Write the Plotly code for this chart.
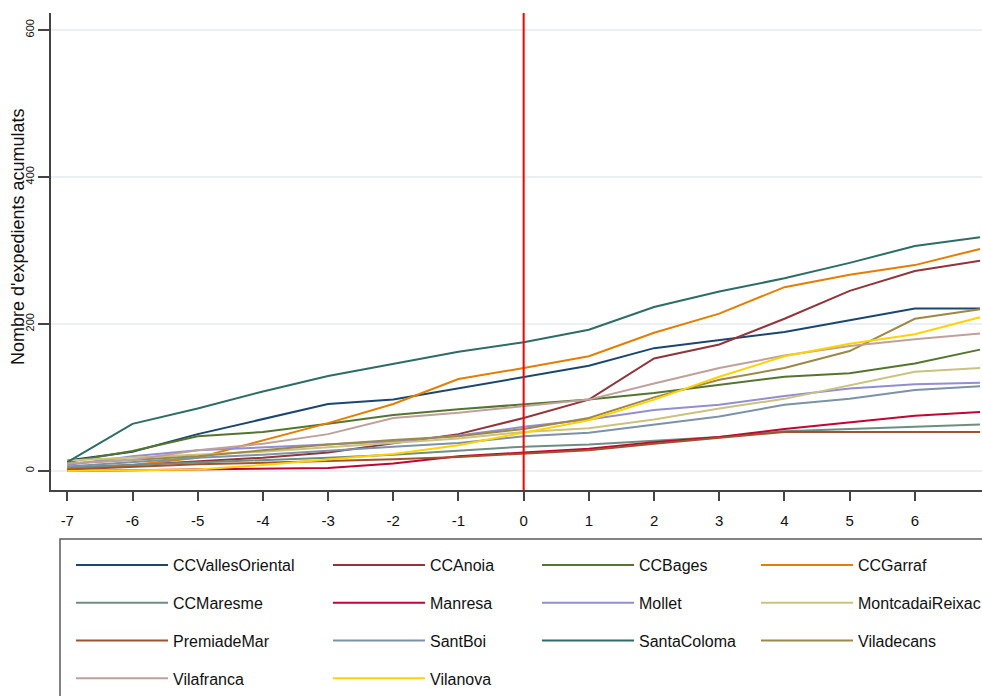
import plotly.graph_objects as go

# Event time (months relative to the change)
periods = list(range(-7, 8))

# Cumulative number of case files per office
CCVallesOriental = [14, 26, 50, 70, 91, 97, 112, 127, 143, 167, 178, 189, 205, 221, 221]
CCAnoia = [3, 8, 12, 18, 25, 38, 50, 72, 97, 153, 172, 207, 245, 272, 286]
CCBages = [12, 27, 47, 53, 64, 76, 84, 90, 97, 106, 117, 128, 133, 146, 165]
CCGarraf = [3, 8, 18, 42, 65, 91, 125, 140, 156, 188, 214, 250, 267, 280, 302]
CCMaresme = [5, 8, 12, 15, 18, 22, 27, 33, 36, 41, 46, 54, 57, 60, 63]
Manresa = [0, 1, 2, 3, 4, 10, 20, 25, 30, 39, 46, 57, 66, 75, 80]
Mollet = [8, 20, 28, 32, 35, 40, 48, 60, 70, 83, 90, 102, 112, 118, 120]
MontcadaiReixac = [14, 18, 22, 26, 32, 38, 44, 53, 58, 70, 85, 98, 117, 135, 140]
PremiadeMar = [2, 6, 9, 11, 13, 16, 19, 23, 28, 37, 45, 53, 53, 53, 53]
SantBoi = [6, 12, 18, 22, 28, 33, 38, 47, 52, 63, 74, 90, 98, 110, 115]
SantaColoma = [12, 64, 85, 108, 129, 146, 162, 175, 192, 223, 244, 262, 283, 306, 318]
Viladecans = [10, 15, 20, 28, 36, 42, 47, 57, 72, 100, 124, 140, 163, 207, 220]
Vilafranca = [10, 15, 28, 37, 50, 72, 79, 88, 97, 119, 140, 157, 170, 179, 187]
Vilanova = [0, 1, 2, 8, 15, 23, 35, 52, 69, 97, 128, 156, 173, 186, 209]

series = [
    ("CCVallesOriental", CCVallesOriental, "#1a476f", "legend"),
    ("CCAnoia", CCAnoia, "#90353b", "legend2"),
    ("CCBages", CCBages, "#55752f", "legend3"),
    ("CCGarraf", CCGarraf, "#e37e00", "legend4"),
    ("CCMaresme", CCMaresme, "#6e8e84", "legend"),
    ("Manresa", Manresa, "#c10534", "legend2"),
    ("Mollet", Mollet, "#938dd2", "legend3"),
    ("MontcadaiReixac", MontcadaiReixac, "#cac27e", "legend4"),
    ("PremiadeMar", PremiadeMar, "#a0522d", "legend"),
    ("SantBoi", SantBoi, "#7b92a8", "legend2"),
    ("SantaColoma", SantaColoma, "#2d6d66", "legend3"),
    ("Viladecans", Viladecans, "#9c8847", "legend4"),
    ("Vilafranca", Vilafranca, "#bfa19c", "legend"),
    ("Vilanova", Vilanova, "#ffd200", "legend2"),
]

x_ticks = list(range(-7, 7))
y_ticks = [0, 200, 400, 600]
y_title = "Nombre d'expedients acumulats"

FONT = "Liberation Sans"

fig = go.Figure()
for name, vals, color, leg in series:
    fig.add_trace(go.Scatter(
        x=periods, y=vals, mode="lines", name=name,
        line=dict(color=color, width=2), legend=leg, legendgroup=name,
    ))

# Vertical reference line at period 0
fig.add_vline(x=0, line_color="#ff0000", line_width=2, layer="above")

W, H = 982, 696
ML, MT, MB = 51, 13, 206
plot_w = W - ML
plot_h = H - MT - MB


def px_x(px):
    return (px - ML) / plot_w


def px_y(py):
    return (H - MB - py) / plot_h


# Legend frame
fig.add_shape(type="rect", xref="paper", yref="paper",
              x0=px_x(60), x1=px_x(1000), y0=px_y(740), y1=px_y(539),
              line=dict(color="#5a5a5a", width=1.5), fillcolor="rgba(0,0,0,0)")

# Y-axis title
fig.add_annotation(text=y_title, xref="paper", yref="paper",
                   x=px_x(18), y=px_y(237), xanchor="center", yanchor="middle",
                   textangle=-90, showarrow=False,
                   font=dict(family=FONT, size=18, color="#111111"))

leg_common = dict(
    orientation="v", xanchor="left", yanchor="top",
    font=dict(family=FONT, size=16, color="#111111"),
    bgcolor="rgba(0,0,0,0)", borderwidth=0,
    itemwidth=92, tracegroupgap=14,
)
col_x = [71, 328, 537, 756]
legs = ["legend", "legend2", "legend3", "legend4"]
layout_legends = {}
for lg, cx in zip(legs, col_x):
    layout_legends[lg] = dict(leg_common, x=px_x(cx), y=px_y(548))

fig.update_layout(
    width=W, height=H,
    margin=dict(l=ML, r=0, t=MT, b=MB, autoexpand=False),
    paper_bgcolor="white", plot_bgcolor="white",
    showlegend=True,
    **layout_legends,
    xaxis=dict(
        range=[-7.25, 7.03], tickmode="array", tickvals=x_ticks,
        ticktext=[str(v) for v in x_ticks],
        showgrid=False, zeroline=False,
        showline=True, linecolor="#444444", linewidth=1.5,
        ticks="outside", ticklen=9, tickcolor="#444444", tickwidth=1.5,
        tickfont=dict(family=FONT, size=15, color="#111111"),
        ticklabelstandoff=7,
    ),
    yaxis=dict(
        range=[-26, 623], tickmode="array", tickvals=y_ticks,
        ticktext=[str(v) for v in y_ticks],
        showgrid=True, gridcolor="#eaf0f3", gridwidth=2,
        zeroline=False,
        showline=True, linecolor="#444444", linewidth=1.5,
        ticks="outside", ticklen=11, tickcolor="#444444", tickwidth=1.5,
        tickangle=-90,
        tickfont=dict(family=FONT, size=11, color="#111111"),
    ),
)

fig.write_html("out.html")
